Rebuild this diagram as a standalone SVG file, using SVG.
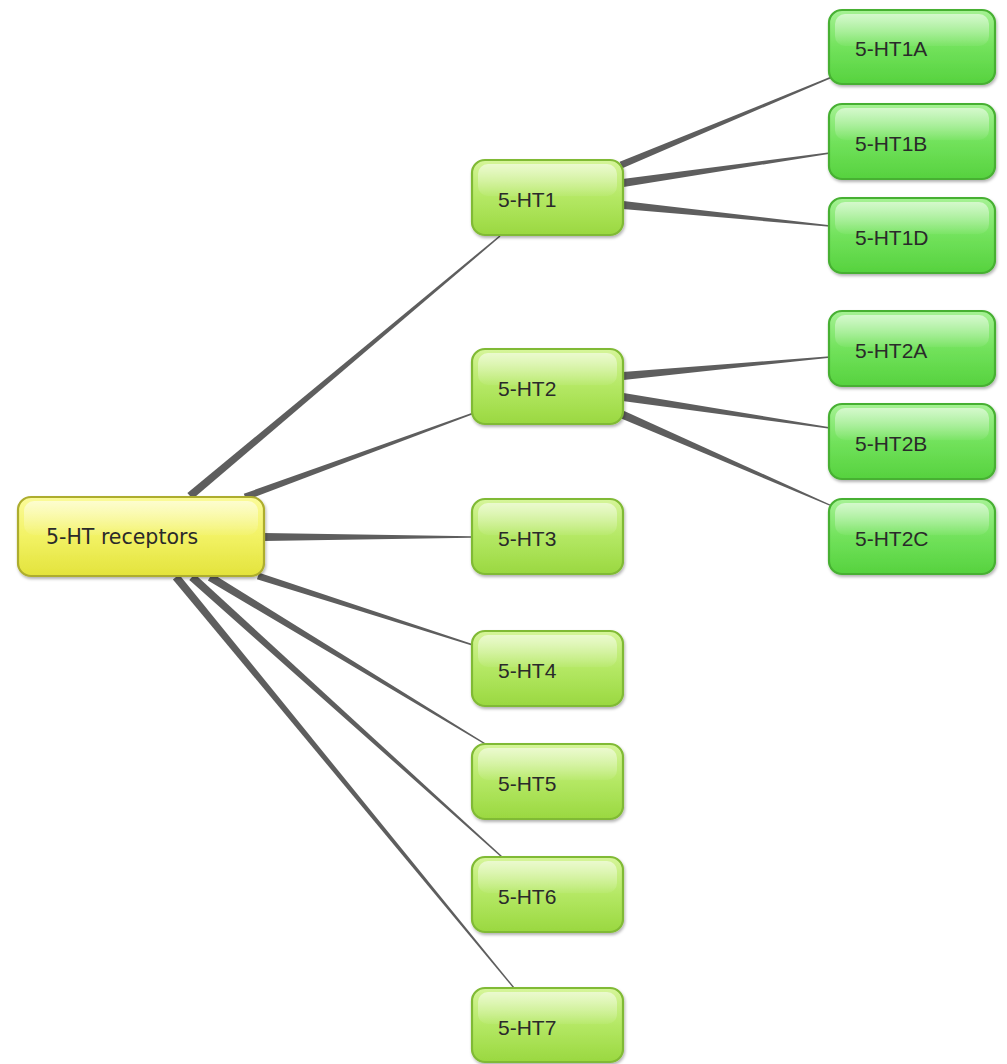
<svg xmlns="http://www.w3.org/2000/svg" width="1007" height="1064" viewBox="0 0 1007 1064">
<defs>
<linearGradient id="gY" x1="0" y1="0" x2="0" y2="1">
<stop offset="0" stop-color="#fbfb9a"/><stop offset="0.5" stop-color="#f2f264"/><stop offset="1" stop-color="#e3e33c"/>
</linearGradient>
<linearGradient id="gM" x1="0" y1="0" x2="0" y2="1">
<stop offset="0" stop-color="#d6f59a"/><stop offset="0.5" stop-color="#b4e864"/><stop offset="1" stop-color="#9ad840"/>
</linearGradient>
<linearGradient id="gR" x1="0" y1="0" x2="0" y2="1">
<stop offset="0" stop-color="#a6f294"/><stop offset="0.5" stop-color="#72e25c"/><stop offset="1" stop-color="#56d23e"/>
</linearGradient>
<linearGradient id="gl" x1="0" y1="0" x2="0" y2="1">
<stop offset="0" stop-color="#ffffff" stop-opacity="0.55"/><stop offset="1" stop-color="#ffffff" stop-opacity="0.05"/>
</linearGradient>
<filter id="sh" x="-10%" y="-10%" width="125%" height="135%">
<feDropShadow dx="1" dy="2" stdDeviation="1.6" flood-color="#000" flood-opacity="0.3"/>
</filter>
</defs>
<style>
.c{fill:#5e5e5e}
.n rect.b{filter:url(#sh);stroke-width:2.2}
.y rect.b{fill:url(#gY);stroke:#adad2e}
.m rect.b{fill:url(#gM);stroke:#80ba34}
.r rect.b{fill:url(#gR);stroke:#46b032}
rect.h{fill:url(#gl)}
text{font-family:"Liberation Sans",Arial,sans-serif;font-size:21px;fill:#2a2a2a}
.y text{font-family:"DejaVu Sans",Verdana,sans-serif;font-size:20.5px}
</style>
<g id="connectors">
<polygon class="c" points="187.4,492.9 499.5,235.4 500.5,236.6 192.6,499.1"/>
<polygon class="c" points="243.8,493.7 473.7,412.3 474.3,413.7 246.2,500.3"/>
<polygon class="c" points="264,533 472,536.25 472,537.75 264,541"/>
<polygon class="c" points="259.1,572.7 476.2,645.3 475.8,646.7 256.9,579.3"/>
<polygon class="c" points="212.1,573.6 487.4,744.4 486.6,745.6 207.9,580.4"/>
<polygon class="c" points="194.7,574 502.5,856.5 501.5,857.5 189.3,580"/>
<polygon class="c" points="179.1,574.5 514.5,987.6 513.5,988.4 172.9,579.5"/>
<polygon class="c" points="619.7,161.8 831.7,76.35 832.3,77.65 622.3,168.2"/>
<polygon class="c" points="622.4,179 829.9,152.3 830.1,153.7 623.6,187"/>
<polygon class="c" points="623.4,201 830.1,225.3 829.9,226.7 622.6,209"/>
<polygon class="c" points="622.6,372 829.9,356.3 830.1,357.7 623.4,380"/>
<polygon class="c" points="623.6,393 830.1,427.3 829.9,428.7 622.4,401"/>
<polygon class="c" points="622.6,410.3 832.3,505.4 831.7,506.6 619.4,417.7"/>
</g>
<g id="root" class="n y"><rect class="b" x="18" y="497" width="246" height="79" rx="13"/><rect class="h" x="24" y="501" width="234" height="34" rx="10"/><text x="46" y="544">5-HT receptors</text></g>
<g id="n1" class="n m"><rect class="b" x="472" y="160" width="151" height="75" rx="13"/><rect class="h" x="478" y="164" width="139" height="32" rx="10"/><text x="498" y="207">5-HT1</text></g>
<g id="n2" class="n m"><rect class="b" x="472" y="349" width="151" height="75" rx="13"/><rect class="h" x="478" y="353" width="139" height="32" rx="10"/><text x="498" y="396">5-HT2</text></g>
<g id="n3" class="n m"><rect class="b" x="472" y="499" width="151" height="75" rx="13"/><rect class="h" x="478" y="503" width="139" height="32" rx="10"/><text x="498" y="546">5-HT3</text></g>
<g id="n4" class="n m"><rect class="b" x="472" y="631" width="151" height="75" rx="13"/><rect class="h" x="478" y="635" width="139" height="32" rx="10"/><text x="498" y="678">5-HT4</text></g>
<g id="n5" class="n m"><rect class="b" x="472" y="744" width="151" height="75" rx="13"/><rect class="h" x="478" y="748" width="139" height="32" rx="10"/><text x="498" y="791">5-HT5</text></g>
<g id="n6" class="n m"><rect class="b" x="472" y="857" width="151" height="75" rx="13"/><rect class="h" x="478" y="861" width="139" height="32" rx="10"/><text x="498" y="904">5-HT6</text></g>
<g id="n7" class="n m"><rect class="b" x="472" y="988" width="151" height="74" rx="13"/><rect class="h" x="478" y="992" width="139" height="32" rx="10"/><text x="498" y="1035">5-HT7</text></g>
<g id="n1a" class="n r"><rect class="b" x="829" y="10" width="166" height="74" rx="13"/><rect class="h" x="835" y="14" width="154" height="32" rx="10"/><text x="855" y="56">5-HT1A</text></g>
<g id="n1b" class="n r"><rect class="b" x="829" y="104" width="166" height="75" rx="13"/><rect class="h" x="835" y="108" width="154" height="32" rx="10"/><text x="855" y="151">5-HT1B</text></g>
<g id="n1d" class="n r"><rect class="b" x="829" y="198" width="166" height="75" rx="13"/><rect class="h" x="835" y="202" width="154" height="32" rx="10"/><text x="855" y="245">5-HT1D</text></g>
<g id="n2a" class="n r"><rect class="b" x="829" y="311" width="166" height="75" rx="13"/><rect class="h" x="835" y="315" width="154" height="32" rx="10"/><text x="855" y="358">5-HT2A</text></g>
<g id="n2b" class="n r"><rect class="b" x="829" y="404" width="166" height="75" rx="13"/><rect class="h" x="835" y="408" width="154" height="32" rx="10"/><text x="855" y="451">5-HT2B</text></g>
<g id="n2c" class="n r"><rect class="b" x="829" y="499" width="166" height="75" rx="13"/><rect class="h" x="835" y="503" width="154" height="32" rx="10"/><text x="855" y="546">5-HT2C</text></g>
</svg>
